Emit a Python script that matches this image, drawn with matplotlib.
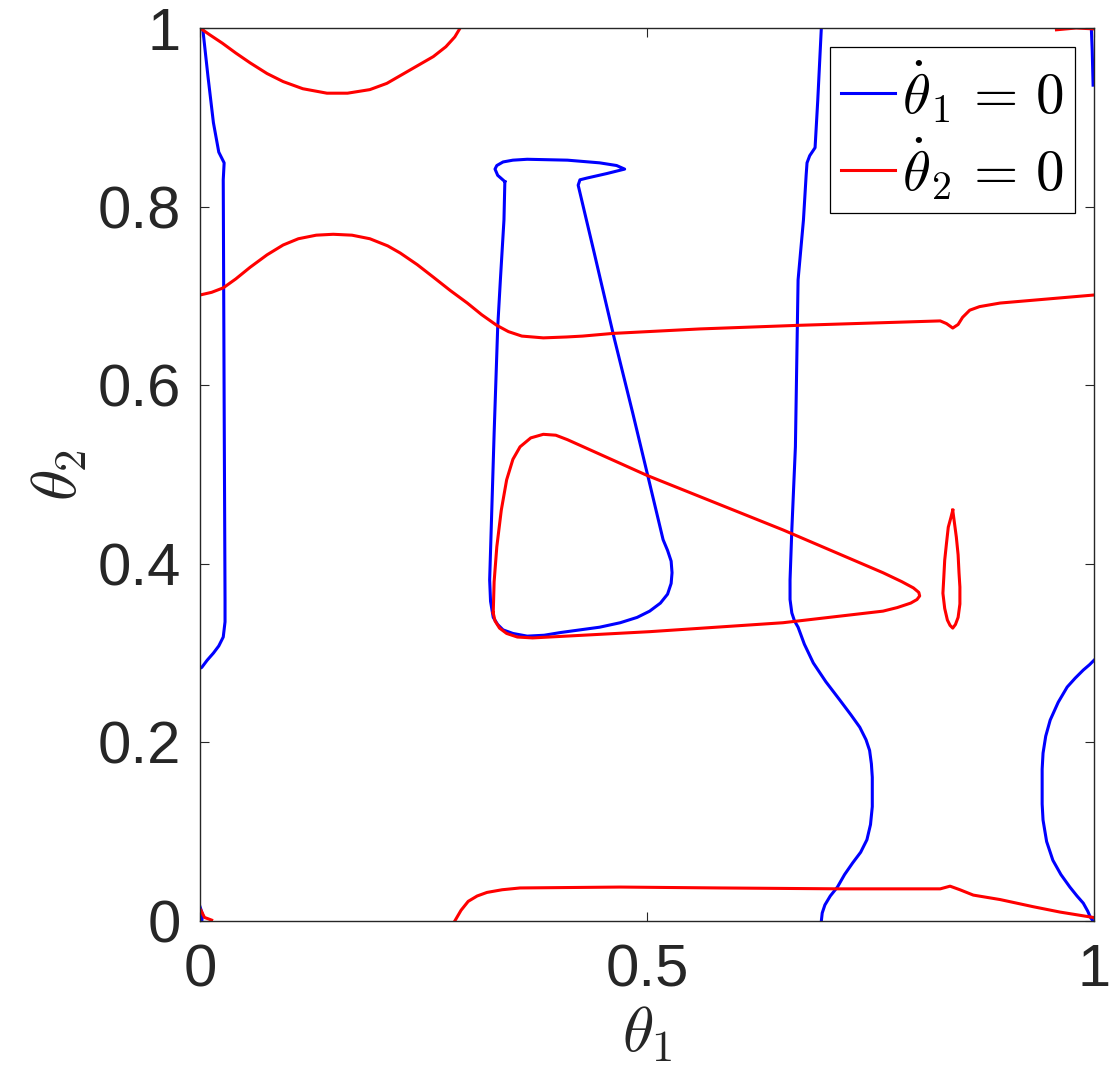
import matplotlib
matplotlib.use('Agg')
import matplotlib.pyplot as plt
import numpy as np

plt.rcParams['mathtext.fontset'] = 'cm'
plt.rcParams['font.family'] = ['Liberation Sans', 'DejaVu Sans']

# blue curves (theta1_dot = 0)
b_left_x = [0.003, 0.009, 0.015, 0.021, 0.027, 0.026, 0.027, 0.028, 0.028, 0.026, 0.021, 0.015, 0.008, 0.002, 0.0]
b_left_y = [1.000, 0.945, 0.894, 0.861, 0.849, 0.830, 0.583, 0.359, 0.335, 0.318, 0.308, 0.300, 0.292, 0.284, 0.283]

b_bl_x = [0.0, 0.003, 0.002]
b_bl_y = [0.016, 0.007, 0.0]

b_tr_x = [0.997, 0.998, 0.999]
b_tr_y = [1.0, 0.975, 0.936]

flask_x = [0.341, 0.340, 0.336, 0.333, 0.329, 0.324, 0.325, 0.328, 0.333, 0.339, 0.350, 0.366,
           0.385, 0.403, 0.447, 0.470, 0.489, 0.503, 0.515, 0.523, 0.527, 0.528, 0.527, 0.523,
           0.518, 0.502, 0.484, 0.463, 0.448, 0.441, 0.423, 0.425, 0.433, 0.455, 0.475, 0.466,
           0.447, 0.411, 0.366, 0.350, 0.339, 0.332, 0.330, 0.333, 0.341]
flask_y = [0.828, 0.785, 0.718, 0.665, 0.546, 0.382, 0.358, 0.340, 0.332, 0.326, 0.322, 0.319,
           0.320, 0.323, 0.329, 0.334, 0.340, 0.347, 0.356, 0.366, 0.378, 0.390, 0.403, 0.415,
           0.427, 0.494, 0.569, 0.654, 0.718, 0.748, 0.824, 0.830, 0.832, 0.837, 0.842, 0.846,
           0.849, 0.852, 0.853, 0.852, 0.850, 0.846, 0.842, 0.835, 0.828]

b_mid_x = [0.695, 0.691, 0.688, 0.682, 0.679, 0.678, 0.675, 0.669, 0.666, 0.662, 0.660, 0.660,
           0.662, 0.665, 0.669, 0.676, 0.686, 0.700, 0.716, 0.728, 0.738, 0.745, 0.749, 0.751,
           0.752, 0.752, 0.752, 0.750, 0.746, 0.739, 0.730, 0.721, 0.713, 0.705, 0.699, 0.696, 0.695]
b_mid_y = [1.000, 0.919, 0.866, 0.857, 0.849, 0.835, 0.785, 0.718, 0.531, 0.438, 0.382, 0.360,
           0.345, 0.336, 0.329, 0.310, 0.289, 0.268, 0.247, 0.231, 0.217, 0.203, 0.191, 0.176,
           0.161, 0.145, 0.128, 0.108, 0.091, 0.077, 0.065, 0.052, 0.038, 0.028, 0.018, 0.009, 0.000]

b_right_x = [1.000, 0.995, 0.988, 0.979, 0.970, 0.960, 0.951, 0.946, 0.943, 0.942, 0.942, 0.942,
             0.943, 0.947, 0.954, 0.963, 0.973, 0.981, 0.988, 0.993, 0.996, 0.999]
b_right_y = [0.292, 0.287, 0.281, 0.272, 0.262, 0.245, 0.225, 0.207, 0.188, 0.170, 0.150, 0.131,
             0.113, 0.089, 0.068, 0.052, 0.038, 0.028, 0.020, 0.011, 0.004, 0.000]

# red curves (theta2_dot = 0)
r_top_x = [0.000, 0.010, 0.025, 0.040, 0.056, 0.075, 0.093, 0.115, 0.142, 0.165, 0.190, 0.209,
           0.235, 0.261, 0.275, 0.285, 0.291]
r_top_y = [1.000, 0.993, 0.983, 0.972, 0.961, 0.949, 0.940, 0.932, 0.927, 0.927, 0.931, 0.938,
           0.953, 0.968, 0.979, 0.990, 1.000]

r_tr_x = [0.958, 0.980, 1.0]
r_tr_y = [0.998, 1.0, 0.999]

r_bl_x = [0.001, 0.005, 0.013]
r_bl_y = [0.012, 0.004, 0.001]

r_wave_x = [0.000, 0.013, 0.026, 0.040, 0.056, 0.075, 0.093, 0.110, 0.130, 0.149, 0.170, 0.190,
            0.210, 0.224, 0.243, 0.261, 0.280, 0.299, 0.315, 0.332, 0.345, 0.360, 0.384, 0.410,
            0.428, 0.462, 0.559, 0.668, 0.828, 0.835, 0.842, 0.848, 0.853, 0.861, 0.872, 0.895, 1.000]
r_wave_y = [0.701, 0.704, 0.709, 0.719, 0.732, 0.746, 0.757, 0.764, 0.768, 0.769, 0.768, 0.764,
            0.756, 0.748, 0.735, 0.721, 0.706, 0.692, 0.679, 0.667, 0.660, 0.655, 0.653, 0.654,
            0.655, 0.658, 0.663, 0.667, 0.672, 0.669, 0.664, 0.668, 0.676, 0.684, 0.688, 0.692, 0.701]

tri_x = [0.328, 0.329, 0.332, 0.337, 0.343, 0.350, 0.358, 0.370, 0.384, 0.398, 0.411, 0.500,
         0.652, 0.764, 0.785, 0.798, 0.804, 0.805, 0.802, 0.795, 0.780, 0.764, 0.652, 0.503,
         0.372, 0.355, 0.343, 0.335, 0.330, 0.328]
tri_y = [0.345, 0.380, 0.419, 0.460, 0.494, 0.517, 0.531, 0.541, 0.545, 0.544, 0.539, 0.499,
         0.438, 0.390, 0.380, 0.373, 0.368, 0.364, 0.360, 0.356, 0.351, 0.347, 0.334, 0.324,
         0.317, 0.318, 0.322, 0.328, 0.336, 0.345]

loop_x = [0.842, 0.844, 0.846, 0.848, 0.849, 0.850, 0.850, 0.848, 0.845, 0.842, 0.839, 0.836,
          0.833, 0.831, 0.832, 0.833, 0.835, 0.837, 0.840, 0.842]
loop_y = [0.460, 0.445, 0.430, 0.410, 0.390, 0.374, 0.355, 0.340, 0.332, 0.328, 0.331, 0.337,
          0.350, 0.367, 0.385, 0.404, 0.423, 0.441, 0.452, 0.460]

r_bot_x = [0.285, 0.292, 0.300, 0.310, 0.321, 0.338, 0.358, 0.470, 0.582, 0.716, 0.783, 0.828,
           0.839, 0.850, 0.865, 0.895, 0.932, 0.962, 0.999]
r_bot_y = [0.000, 0.012, 0.022, 0.028, 0.032, 0.035, 0.037, 0.038, 0.037, 0.036, 0.036, 0.036,
           0.039, 0.035, 0.029, 0.024, 0.016, 0.010, 0.004]

blue_curves = [(b_left_x, b_left_y), (b_bl_x, b_bl_y), (b_tr_x, b_tr_y), (flask_x, flask_y),
               (b_mid_x, b_mid_y), (b_right_x, b_right_y)]
red_curves = [(r_top_x, r_top_y), (r_tr_x, r_tr_y), (r_bl_x, r_bl_y), (r_wave_x, r_wave_y),
              (tri_x, tri_y), (loop_x, loop_y), (r_bot_x, r_bot_y)]

fig = plt.figure(figsize=(11.1, 10.9), dpi=100)
ax = fig.add_axes([200/1110, 169/1090, 894/1110, 893/1090])

lw = 2.2
for i, (x, y) in enumerate(blue_curves):
    ax.plot(x, y, color='#0000ff', linewidth=lw, solid_joinstyle='round',
            label=r'$\dot{\theta}_1\,=\,0$' if i == 0 else None)
for i, (x, y) in enumerate(red_curves):
    ax.plot(x, y, color='#ff0000', linewidth=lw, solid_joinstyle='round',
            label=r'$\dot{\theta}_2\,=\,0$' if i == 0 else None)

ax.set_xlim(0, 1)
ax.set_ylim(0, 1)
ax.set_xticks([0, 0.5, 1])
ax.set_xticklabels(['0', '0.5', '1'])
ax.set_yticks([0, 0.2, 0.4, 0.6, 0.8, 1])
ax.set_yticklabels(['0', '0.2', '0.4', '0.6', '0.8', '1'])
ax.tick_params(direction='in', length=6.5, width=0.8, top=True, right=True,
               labelsize=43, colors='#262626', pad=14)
ax.tick_params(axis='x', pad=16)
for s in ax.spines.values():
    s.set_color('#262626')
    s.set_linewidth(1.0)

ax.set_xlabel(r'$\theta_{\mathsf{1}}$', fontsize=46, color='#262626', labelpad=4)
ax.set_ylabel(r'$\theta_{\mathsf{2}}$', fontsize=46, color='#262626', labelpad=6)

leg = ax.legend(loc='upper right', bbox_to_anchor=(0.979, 0.979), borderaxespad=0,
                fontsize=41, handlelength=0.95, handletextpad=0.12, borderpad=0.2,
                labelspacing=0.18, fancybox=False, framealpha=1, edgecolor='#000000')
leg.get_frame().set_linewidth(0.9)

fig.savefig('out.png', dpi=100)
